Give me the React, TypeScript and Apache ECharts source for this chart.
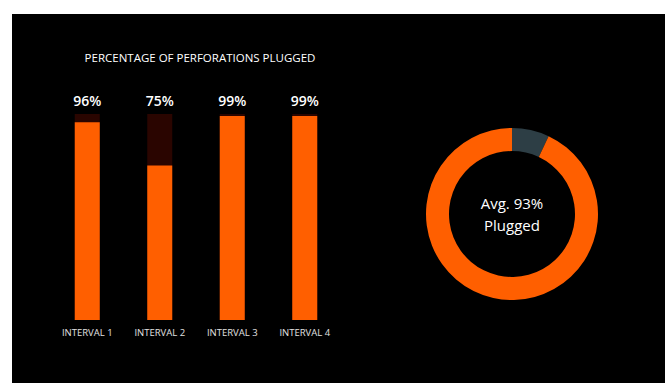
import React, { useEffect, useRef } from "react";
import * as echarts from "echarts";

const categories = ["INTERVAL 1", "INTERVAL 2", "INTERVAL 3", "INTERVAL 4"];
const pluggedPct = [96, 75, 99, 99];
const fullPct = [100, 100, 100, 100];
const avgPlugged = 93;
const avgNotPlugged = 7;
const chartTitle = "PERCENTAGE OF PERFORATIONS PLUGGED";

const ORANGE = "#ff5f00";
const DARK = "#2a0500";
const GRAY = "#2d3e45";
const FONT = "'Open Sans', 'Noto Sans', sans-serif";

export default function App() {
  const ref = useRef<HTMLDivElement>(null);
  useEffect(() => {
    if (!ref.current) return;
    const chart = echarts.init(ref.current, null, { renderer: "svg" });
    chart.setOption({
      animation: false,
      backgroundColor: "#ffffff",
      graphic: [
        {
          type: "rect",
          z: -10,
          silent: true,
          shape: { x: 12, y: 14, width: 653, height: 369 },
          style: { fill: "#000000" },
        },
        {
          type: "text",
          x: 200,
          y: 57,
          style: {
            text: chartTitle,
            fill: "#ffffff",
            fontSize: 11.5,
            fontFamily: FONT,
            align: "center",
            verticalAlign: "middle",
          },
        },
        {
          type: "text",
          x: 512,
          y: 214,
          style: {
            text: `Avg. ${avgPlugged}%\nPlugged`,
            fill: "#ffffff",
            fontSize: 15,
            lineHeight: 22,
            fontFamily: FONT,
            align: "center",
            verticalAlign: "middle",
          },
        },
      ],
      grid: { left: 51, right: 330, top: 114, bottom: 63 },
      xAxis: {
        type: "category",
        data: categories,
        axisLine: { show: false },
        axisTick: { show: false },
        axisLabel: { color: "#e0e0e0", fontSize: 9.5, margin: 7, fontFamily: FONT },
      },
      yAxis: { type: "value", min: 0, max: 100, show: false },
      series: [
        {
          type: "bar",
          data: fullPct,
          barWidth: 25,
          barGap: "-100%",
          itemStyle: { color: DARK },
          label: {
            show: true,
            position: "top",
            distance: 7,
            color: "#ffffff",
            fontSize: 14,
            fontWeight: 600,
            fontFamily: FONT,
            formatter: (p: any) => `${pluggedPct[p.dataIndex]}%`,
          },
          z: 1,
        },
        {
          type: "bar",
          data: pluggedPct,
          barWidth: 25,
          barGap: "-100%",
          itemStyle: { color: ORANGE },
          z: 2,
        },
        {
          type: "pie",
          center: [512, 214],
          radius: [63, 86],
          startAngle: 90,
          clockwise: true,
          label: { show: false },
          labelLine: { show: false },
          silent: true,
          data: [
            { value: avgNotPlugged, name: "Not plugged", itemStyle: { color: GRAY } },
            { value: avgPlugged, name: "Plugged", itemStyle: { color: ORANGE } },
          ],
        },
      ],
    });
    return () => chart.dispose();
  }, []);
  return (
    <div
      ref={ref}
      style={{ position: "absolute", left: 0, top: 0, width: 671, height: 383 }}
    />
  );
}
